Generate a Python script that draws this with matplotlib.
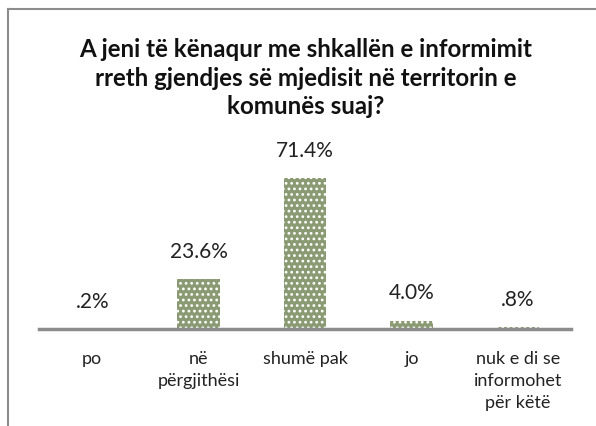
import matplotlib
matplotlib.use("Agg")
import matplotlib.pyplot as plt
from matplotlib.lines import Line2D

categories = ["po", "në\npërgjithësi", "shumë pak", "jo", "nuk e di se\ninformohet\npër këtë"]
values = [0.2, 23.6, 71.4, 4.0, 0.8]
value_labels = [".2%", "23.6%", "71.4%", "4.0%", ".8%"]
title = "A jeni të kënaqur me shkallën e informimit\nrreth gjendjes së mjedisit në territorin e\nkomunës suaj?"

plt.rcParams['font.family'] = ['Lato', 'DejaVu Sans']
plt.rcParams['hatch.color'] = 'white'
plt.rcParams['hatch.linewidth'] = 1.2

W, H = 596, 427
fig = plt.figure(figsize=(W/100, H/100), dpi=100)

# frame (partially visible)
fig.add_artist(Line2D([8/W, 1.0], [1-10/H, 1-10/H], color='#8c8c8c', lw=1.5, transform=fig.transFigure))
fig.add_artist(Line2D([8/W, 8/W], [0, 1-10/H], color='#8c8c8c', lw=1.5, transform=fig.transFigure))

ymax = 80
px_per = 2.12
left, right = 39, 571
base = 330
ax = fig.add_axes([left/W, (H-base)/H, (right-left)/W, ymax*px_per/H])
x = list(range(len(categories)))
ax.bar(x, values, width=0.4, color='#8a9a72', hatch='...', edgecolor='white', linewidth=0)
ax.set_xlim(-0.5, len(categories)-0.5)
ax.set_ylim(0, ymax)
for s in ['top', 'right', 'left']:
    ax.spines[s].set_visible(False)
ax.spines['bottom'].set_color('#8c8c8c')
ax.spines['bottom'].set_linewidth(2.5)
ax.set_yticks([])
ax.set_xticks(x)
ax.set_xticklabels(categories, fontsize=13, color='#222222', linespacing=1.48, va='top')
ax.tick_params(axis='x', length=0, pad=15)
for xi, v, lab in zip(x, values, value_labels):
    ax.annotate(lab, (xi, v), xytext=(0, 13), textcoords='offset points',
                ha='center', va='bottom', fontsize=15, color='#222222')

fig.text(306/W, 1-78/H, title, ha='center', va='center', fontsize=17.4,
         fontweight='bold', color='#111111', linespacing=1.31)

fig.savefig("out.png", dpi=100)
